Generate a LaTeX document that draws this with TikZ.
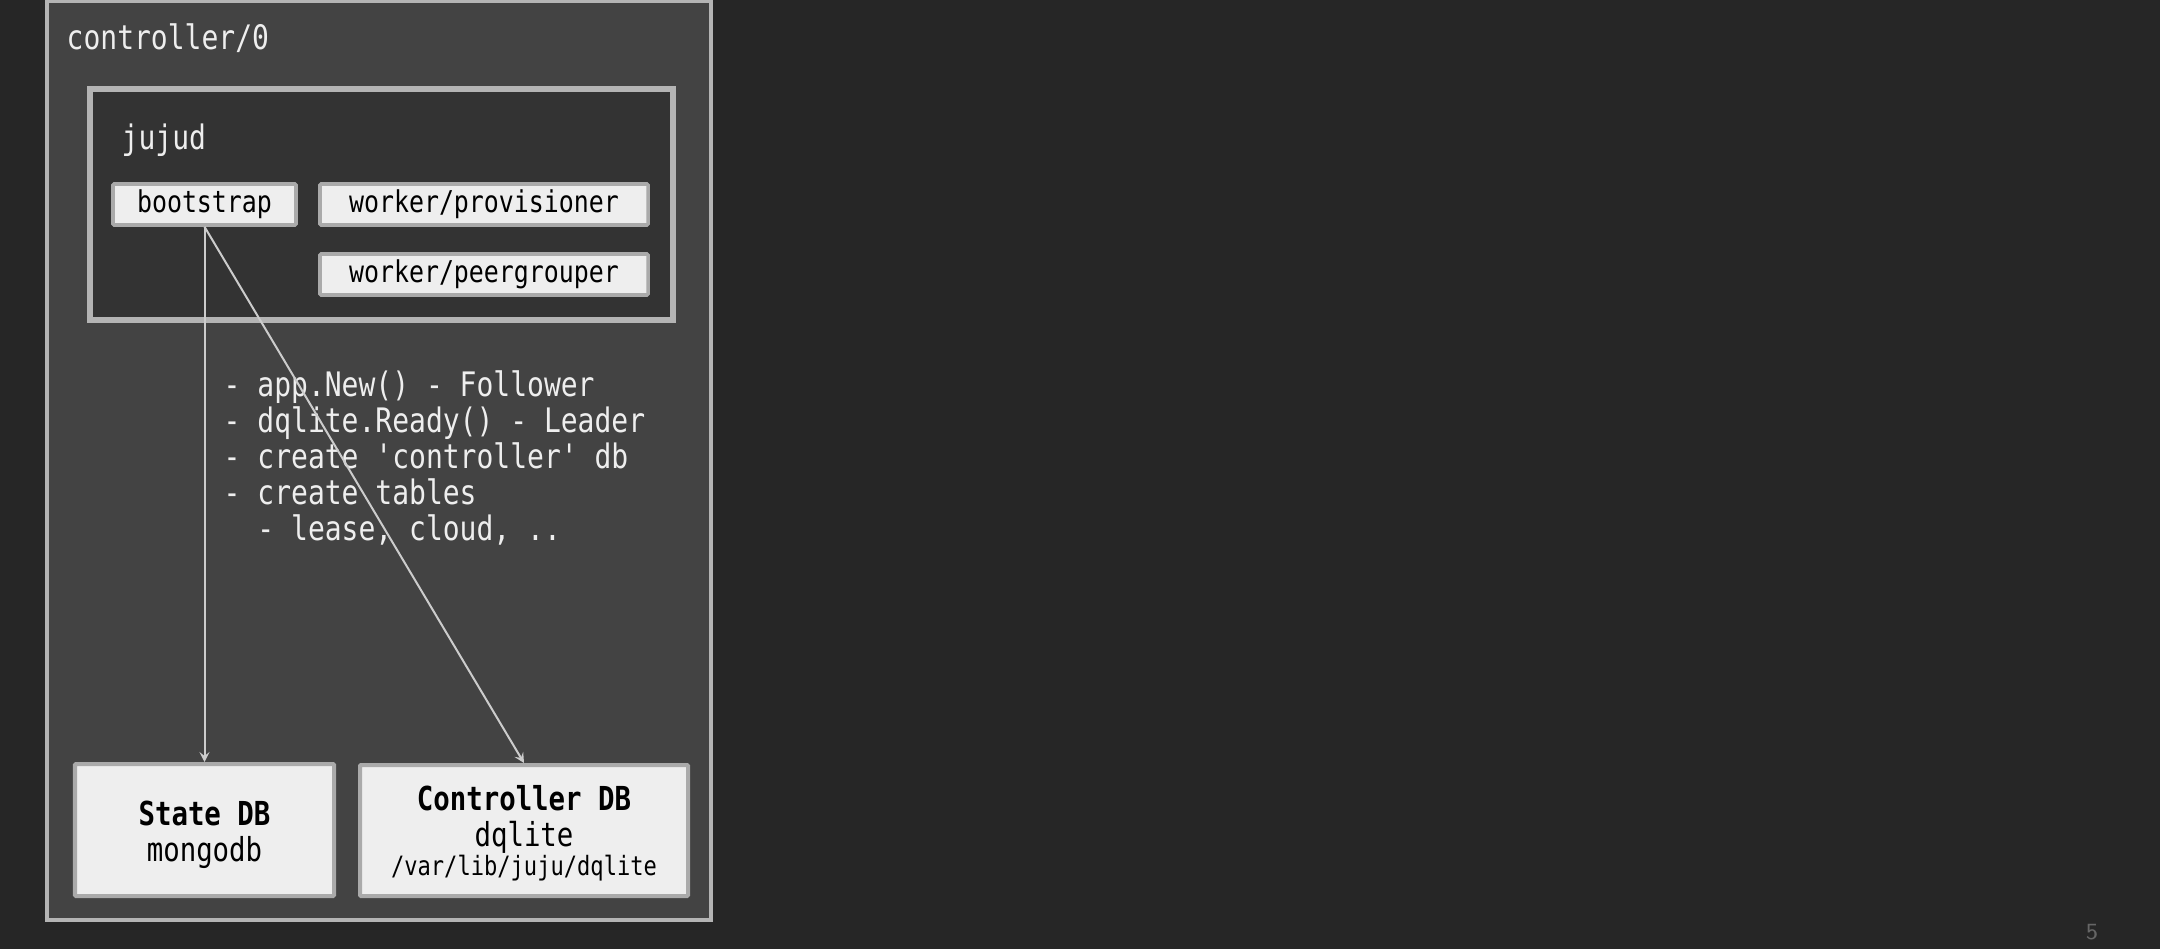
\documentclass[tikz,border=0pt]{standalone}
\usepackage{fontspec}
\setmonofont{DejaVu Sans Mono}[FakeStretch=0.83]
\usetikzlibrary{arrows.meta}
\definecolor{slidebg}{HTML}{262626}
\definecolor{hostfill}{HTML}{434343}
\definecolor{procfill}{HTML}{333333}
\definecolor{boxfill}{HTML}{EEEEEE}
\definecolor{boxline}{HTML}{AAAAAA}
\definecolor{frameline}{HTML}{B4B4B4}
\definecolor{linkcol}{HTML}{CCCCCC}
\definecolor{textcol}{HTML}{EEEEEE}
\definecolor{pagecol}{HTML}{666666}
\begin{document}
\begin{tikzpicture}
			\tikzset{unit/.style = {shape=rectangle, draw=boxline, fill=boxfill, line width=1pt, rounded corners=0.3pt, inner sep=0pt, text=black, font=\ttfamily\fontsize{8.54}{10}\selectfont}}
			\tikzset{store/.style = {unit, line width=1.14pt, align=center, font=\ttfamily\fontsize{9.39}{10.2}\selectfont}}
			\tikzset{title/.style = {inner sep=0pt, text=textcol, font=\ttfamily\fontsize{9.6}{10.24}\selectfont}}
			\tikzset{edge/.style = {-{Stealth[length=0.1cm, width=0.1cm, inset=0.04cm]}, draw=linkcol, line width=0.57pt}}
			\fill[slidebg] (0,0) rectangle (21.6,9.49);
			\useasboundingbox (0,0) rectangle (21.6,9.49);
			% Draw the machine and the agent
			\draw[frameline, fill=hostfill, line width=1.14pt] (0.47,9.48) rectangle (7.11,0.29);
			\draw[frameline, fill=procfill, line width=1.7pt] (0.90,8.60) rectangle (6.73,6.29);
			\node[title, anchor=base west] (host) at (0.66,8.99) {controller/0};
			\node[title, anchor=base west] (jujud) at (1.21,7.99) {jujud};
			% Workers
			\node[unit, minimum width=1.83cm, minimum height=0.41cm] (bootstrap) at (2.045,7.445) {bootstrap};
			\node[unit, minimum width=3.28cm, minimum height=0.41cm] (provisioner) at (4.84,7.445) {worker/provisioner};
			\node[unit, minimum width=3.28cm, minimum height=0.41cm] (peergrouper) at (4.84,6.745) {worker/peergrouper};
			\node[title, anchor=base west, align=left] (steps) at (2.23,4.09) {- app.New() - Follower\\- dqlite.Ready() - Leader\\- create 'controller' db\\- create tables\\\phantom{--}- lease, cloud, ..};
			% Databases
			\node[store, minimum width=2.59cm, minimum height=1.32cm] (statedb) at (2.045,1.19) {\rule{0pt}{9.5pt}\textbf{State DB}\\mongodb};
			\node[store, minimum width=3.28cm, minimum height=1.31cm] (controllerdb) at (5.24,1.185) {\rule{0pt}{8.7pt}\textbf{Controller DB}\\dqlite\\[-1.75pt]{\fontsize{7.57}{8.8}\selectfont /var/lib/juju/dqlite}};
			\draw[edge] (bootstrap.south) to (statedb.north);
			\draw[edge] (bootstrap.south) to (controllerdb.north);
			\node[anchor=base, inner sep=0pt, text=pagecol, font=\sffamily\fontsize{6.6}{8}\selectfont] (pageno) at (20.92,0.10) {5};
		\end{tikzpicture}
\end{document}
